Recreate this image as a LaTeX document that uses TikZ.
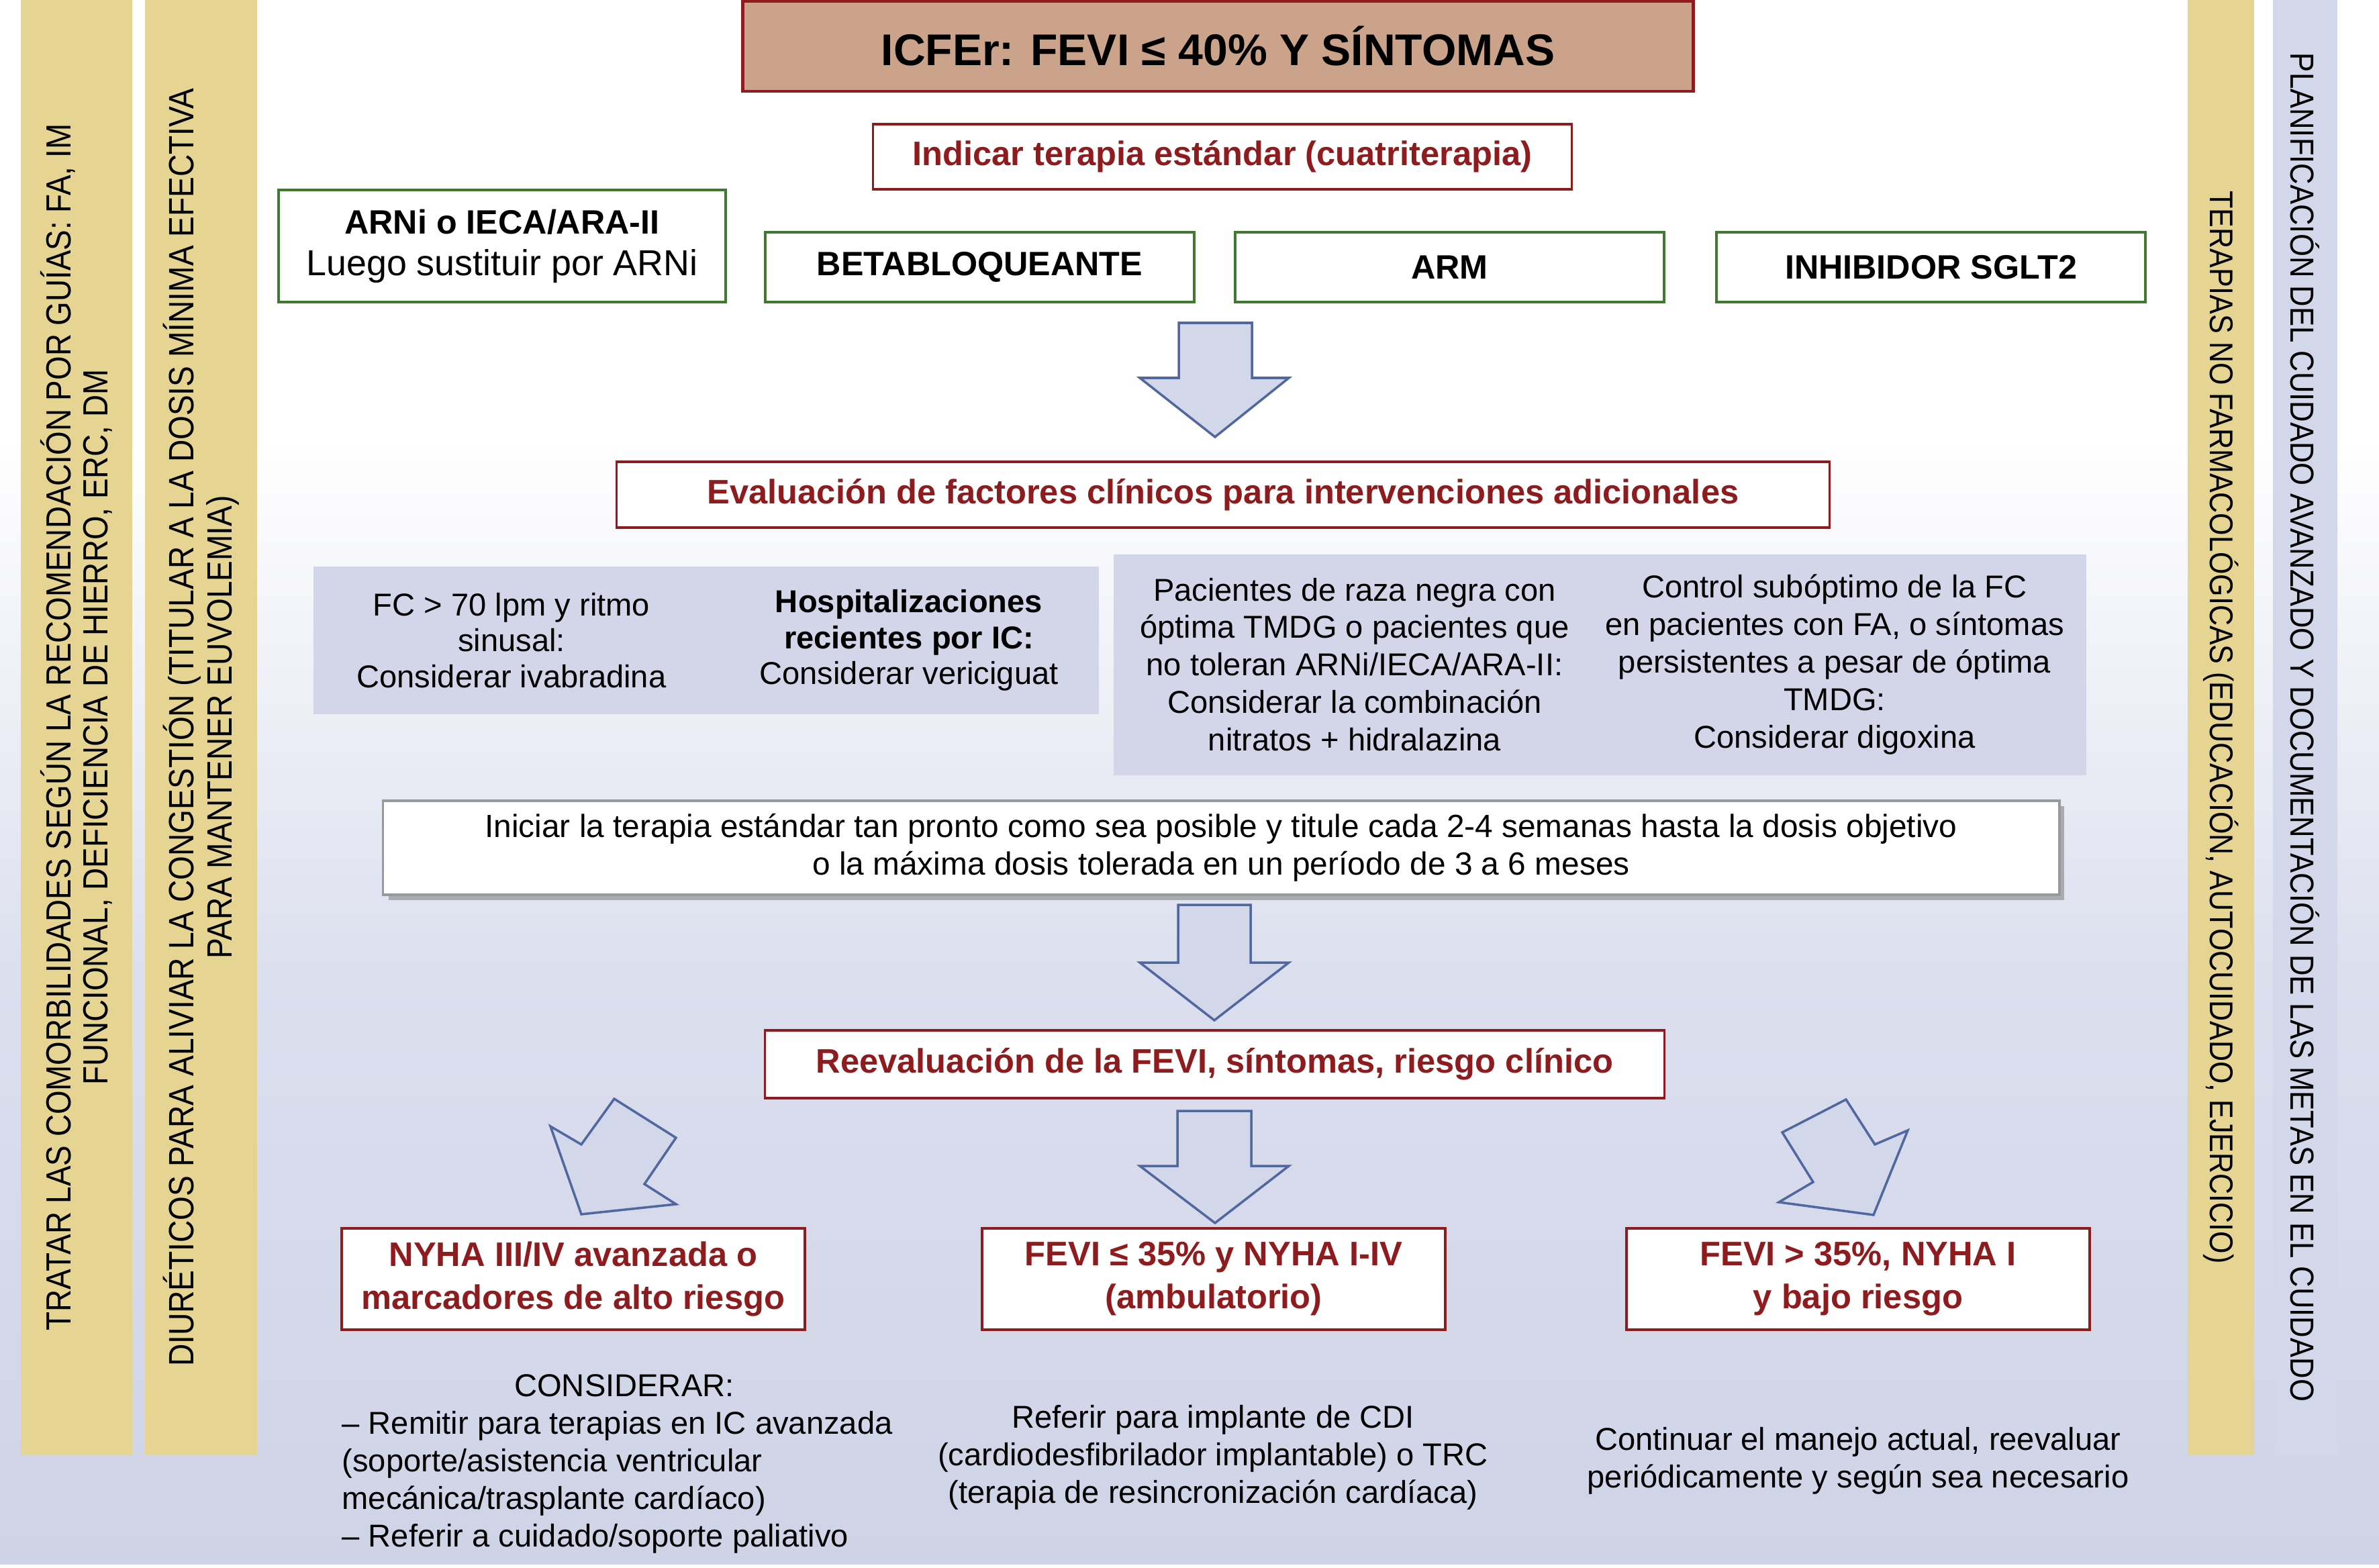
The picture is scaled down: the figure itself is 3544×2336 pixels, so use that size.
\documentclass[tikz,border=0pt]{standalone}
\usepackage{fontspec}
\setmainfont{Liberation Sans}
\newfontfamily\barfont[FakeStretch=0.88]{Liberation Sans}
\newcommand\setfs[2]{\fontsize{#1}{#2}\selectfont}
\definecolor{dred}{HTML}{8E1B1E}
\definecolor{titlef}{HTML}{CBA38B}
\definecolor{dgreen}{HTML}{3F7A30}
\definecolor{baryel}{HTML}{E6D592}
\definecolor{barblu}{HTML}{D3D7EA}
\definecolor{grayb}{HTML}{D3D6E8}
\definecolor{arrowf}{HTML}{D3D7EA}
\definecolor{arrowd}{HTML}{50679F}
\definecolor{bgmid}{HTML}{DCDFEE}
\definecolor{bgbot}{HTML}{CED3E6}
\definecolor{shadowg}{HTML}{A9ABB3}
\begin{document}
\begin{tikzpicture}[x=0.01cm,y=-0.01cm,
  redbox/.style={draw=dred,line width=1pt,fill=white,text=dred,font=\bfseries\setfs{14.4}{18.2},align=center,inner sep=0pt},
  greenbox/.style={draw=dgreen,line width=1pt,fill=white,align=center,inner sep=0pt,font=\bfseries\setfs{14.3}{17.6}},
  graybox/.style={fill=grayb,inner sep=0pt},
  body/.style={font=\setfs{13.4}{15.9},align=center,inner sep=0pt},
  blockarrow/.style={fill=arrowf,draw=arrowd,line width=1pt,line join=miter},
  sidebar/.style={inner sep=0pt,minimum width=21.67cm,align=center}]
\useasboundingbox (0,0) rectangle (3544,2336);
% background
\fill[white] (0,0) rectangle (3544,2336);
\shade[top color=white,bottom color=bgmid] (0,650) rectangle (3544,1450);
\shade[top color=bgmid,bottom color=bgbot] (0,1449) rectangle (3544,2330);
% side bars
\node[sidebar,fill=baryel,rotate=90,minimum height=1.66cm,font=\barfont\setfs{14.8}{15.6}] (bar1) at (114,1083.5)
  {TRATAR LAS COMORBILIDADES SEGÚN LA RECOMENDACIÓN POR GUÍAS: FA, IM\\FUNCIONAL, DEFICIENCIA DE HIERRO, ERC, DM};
\node[sidebar,fill=baryel,rotate=90,minimum height=1.67cm,font=\barfont\setfs{14.9}{16.2}] (bar2) at (299.5,1083.5)
  {DIURÉTICOS PARA ALIVIAR LA CONGESTIÓN (TITULAR A LA DOSIS MÍNIMA EFECTIVA\\PARA MANTENER EUVOLEMIA)};
\node[sidebar,fill=baryel,rotate=-90,minimum height=0.99cm,font=\barfont\setfs{13.9}{15.6}] (bar3) at (3308.5,1083.5)
  {TERAPIAS NO FARMACOLÓGICAS (EDUCACIÓN, AUTOCUIDADO, EJERCICIO)};
\node[sidebar,fill=barblu,rotate=-90,minimum height=0.96cm,font=\barfont\setfs{14.1}{15.6}] (bar4) at (3434,1083.5)
  {PLANIFICACIÓN DEL CUIDADO AVANZADO Y DOCUMENTACIÓN DE LAS METAS EN EL CUIDADO};
% title
\node[draw=dred,line width=1.3pt,fill=titlef,minimum width=14.15cm,minimum height=1.34cm,inner sep=0pt,
  font=\bfseries\setfs{18.8}{22}] (title) at (1814.5,69) {ICFEr: FEVI ≤ 40\% Y SÍNTOMAS};
\node[redbox,minimum width=10.4cm,minimum height=0.97cm] (indicar) at (1821,233.5)
  {Indicar terapia estándar (cuatriterapia)};
% green boxes
\node[greenbox,minimum width=6.66cm,minimum height=1.67cm] (arni) at (748,366.5)
  {ARNi o IECA/ARA-II\\{\mdseries\setfs{15.3}{17.6}Luego sustituir por ARNi}};
\node[greenbox,minimum width=6.39cm,minimum height=1.04cm] (beta) at (1459.5,398) {BETABLOQUEANTE};
\node[greenbox,minimum width=6.39cm,minimum height=1.04cm] (arm) at (2159.5,398) {ARM};
\node[greenbox,minimum width=6.39cm,minimum height=1.04cm] (sglt) at (2876.5,398) {INHIBIDOR SGLT2};
% arrow 1
\draw[blockarrow] (1756,481) -- (1865,481) -- (1865,563) -- (1920,563) -- (1810,651) -- (1698,563) -- (1756,563) -- cycle;
% evaluation
\node[redbox,minimum width=18.06cm,minimum height=0.98cm] (eval) at (1822,737)
  {Evaluación de factores clínicos para intervenciones adicionales};
% gray boxes
\node[graybox,minimum width=11.7cm,minimum height=2.2cm] (grayA) at (1052,954) {};
\node[graybox,minimum width=14.49cm,minimum height=3.29cm] (grayB) at (2383.5,990.5) {};
\node[body,font=\setfs{13.4}{15.2}] (ivab) at (762,954) {FC > 70 lpm y ritmo\\sinusal:\\Considerar ivabradina};
\node[body,font=\setfs{13.4}{15.2}] (veric) at (1354,954) {\textbf{Hospitalizaciones}\\\textbf{recientes por IC:}\\Considerar vericiguat};
\node[body] (raza) at (2018,990) {Pacientes de raza negra con\\óptima TMDG o pacientes que\\no toleran ARNi/IECA/ARA-II:\\Considerar la combinación\\nitratos + hidralazina};
\node[body] (digox) at (2733,990) {Control subóptimo de la FC\\en pacientes con FA, o síntomas\\persistentes a pesar de óptima\\TMDG:\\Considerar digoxina};
% iniciar box
\fill[shadowg] (579,1201) rectangle (3075,1341);
\node[draw=gray!80,line width=1pt,fill=white,minimum width=24.96cm,minimum height=1.4cm,inner sep=0pt,
  align=center,font=\setfs{13.6}{15.9}] (inic) at (1819,1263)
  {Iniciar la terapia estándar tan pronto como sea posible y titule cada 2-4 semanas hasta la dosis objetivo\\o la máxima dosis tolerada en un período de 3 a 6 meses};
% arrow 2
\draw[blockarrow] (1755,1348) -- (1863,1348) -- (1863,1434) -- (1920,1434) -- (1809,1520) -- (1698,1434) -- (1755,1434) -- cycle;
\node[redbox,minimum width=13.39cm,minimum height=1.01cm] (reeval) at (1809.5,1585.5)
  {Reevaluación de la FEVI, síntomas, riesgo clínico};
% arrow 3 and rotated arrows
\draw[blockarrow] (1754,1655) -- (1864,1655) -- (1864,1737) -- (1920,1737) -- (1810,1822) -- (1698,1737) -- (1754,1737) -- cycle;
\draw[blockarrow] (915,1637) -- (1007,1695) -- (960,1764) -- (1007,1794) -- (866,1809) -- (820,1678) -- (866,1705) -- cycle;
\draw[blockarrow] (2655,1687) -- (2750,1638) -- (2793,1705) -- (2842,1684) -- (2791,1810) -- (2650,1791) -- (2701,1761) -- cycle;
% outcome boxes
\node[redbox,minimum width=6.9cm,minimum height=1.51cm] (nyha) at (854,1905.5)
  {NYHA III/IV avanzada o\\marcadores de alto riesgo};
\node[redbox,minimum width=6.9cm,minimum height=1.51cm] (fevia) at (1808,1905.5)
  {FEVI ≤ 35\% y NYHA I-IV\\(ambulatorio)};
\node[redbox,minimum width=6.9cm,minimum height=1.51cm] (fevib) at (2768,1905.5)
  {FEVI > 35\%, NYHA I\\y bajo riesgo};
% bottom texts
\node[body,align=left,anchor=west] (consid) at (509,2181)
  {\makebox[8.4cm][c]{CONSIDERAR:}\\– Remitir para terapias en IC avanzada\\(soporte/asistencia ventricular\\mecánica/trasplante cardíaco)\\– Referir a cuidado/soporte paliativo};
\node[body] (refer) at (1807,2171)
  {Referir para implante de CDI\\(cardiodesfibrilador implantable) o TRC\\(terapia de resincronización cardíaca)};
\node[body] (contin) at (2768,2176)
  {Continuar el manejo actual, reevaluar\\periódicamente y según sea necesario};
\end{tikzpicture}
\end{document}
